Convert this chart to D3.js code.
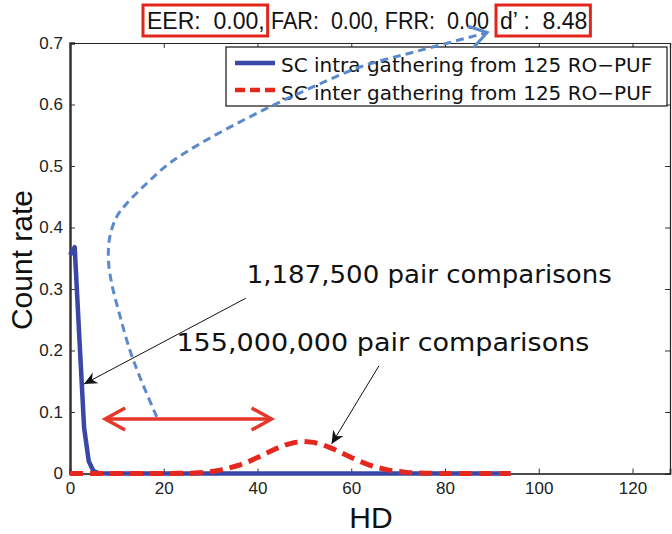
<!DOCTYPE html>
<html>
<head>
<meta charset="utf-8">
<script src="https://cdn.jsdelivr.net/npm/d3@7"></script>
<style>
  body { margin: 0; background: #fff; }
  svg { display: block; }
  text { white-space: pre; }
</style>
</head>
<body>
<script>
// data
var intraHD = [0, 1, 2, 3, 4, 5, 6, 7, 8, 94];
var intraRate = [0.355, 0.368, 0.22, 0.075, 0.02, 0.004, 0.001, 0.0003, 0, 0];

var interHD = [0, 10, 20, 26, 28, 30, 32, 34, 36, 38, 40, 42, 44, 46, 48, 50, 52, 54, 56, 58, 60, 62, 64, 66, 68, 70, 72, 74, 76, 78, 80, 94];
var interRate = [0, 0, 0, 0.0006, 0.0015, 0.003, 0.0055, 0.009, 0.0134, 0.019, 0.026, 0.0334, 0.0405, 0.0465, 0.0506, 0.052, 0.0506, 0.0465, 0.0405, 0.0334, 0.026, 0.0192, 0.0134, 0.0089, 0.0055, 0.0033, 0.0018, 0.001, 0.0005, 0.0002, 0, 0];

var xTicks = [0, 20, 40, 60, 80, 100, 120];
var yTicks = [0, 0.1, 0.2, 0.3, 0.4, 0.5, 0.6, 0.7];

var legendLabels = ['SC intra gathering from 125 RO\u2212PUF', 'SC inter gathering from 125 RO\u2212PUF'];
var titleParts = ['EER:  0.00,', 'FAR:  0.00, FRR:  0.00', 'd\u2019 :  8.48'];

// annotation anchors in data units [HD, rate]
var curvePts = [[18.5, 0.092], [14.9, 0.157], [12.8, 0.2], [10.7, 0.255], [8.9, 0.309], [8.2, 0.347], [8.5, 0.385], [10.0, 0.418], [12.1, 0.439], [16.4, 0.472], [21.3, 0.505], [27.7, 0.536], [35.6, 0.569], [43.4, 0.599], [50.5, 0.624], [61.9, 0.661], [74.7, 0.688], [89.0, 0.717]];
var note1 = {text: '1,187,500 pair comparisons', len: 365, at: [37.7, 0.31], from: [37.5, 0.285], to: [3.0, 0.1455]};
var note2 = {text: '155,000,000 pair comparisons', len: 413, at: [22.7, 0.2], from: [65.9, 0.175], to: [55.8, 0.048]};
var spanArrow = [[7.5, 0.0886], [43.0, 0.0886]];

var W = 672, H = 534;
var x = d3.scaleLinear().domain([0, 128]).range([70, 670]);
var y = d3.scaleLinear().domain([0, 0.7]).range([473.5, 43]);

var svg = d3.select('body').append('svg')
    .attr('width', W).attr('height', H)
    .style('font-family', 'Liberation Sans, Arial, sans-serif');

var defs = svg.append('defs');
defs.append('marker').attr('id', 'blk')
    .attr('viewBox', '-14 -7 16 14').attr('refX', 0).attr('refY', 0)
    .attr('markerWidth', 16).attr('markerHeight', 14)
    .attr('markerUnits', 'userSpaceOnUse').attr('orient', 'auto')
    .append('path').attr('d', 'M0,0 L-13,-6 L-9,0 L-13,6 Z').attr('fill', '#111');
defs.append('marker').attr('id', 'redv')
    .attr('viewBox', '-24 -14 28 28').attr('refX', 0).attr('refY', 0)
    .attr('markerWidth', 28).attr('markerHeight', 28)
    .attr('markerUnits', 'userSpaceOnUse').attr('orient', 'auto-start-reverse')
    .append('path').attr('d', 'M-20,-11 L0,0 L-20,11')
    .attr('fill', 'none').attr('stroke', '#e5382a').attr('stroke-width', 3.5);
defs.append('marker').attr('id', 'bluev')
    .attr('viewBox', '-22 -14 26 28').attr('refX', 0).attr('refY', 0)
    .attr('markerWidth', 26).attr('markerHeight', 28)
    .attr('markerUnits', 'userSpaceOnUse').attr('orient', 'auto')
    .append('path').attr('d', 'M-17,-11 L0,0 L-17,11')
    .attr('fill', 'none').attr('stroke', '#5a8acb').attr('stroke-width', 3);

// axes (MATLAB style, inward ticks, box on)
var xAxis = d3.axisBottom(x).tickValues(xTicks).tickSize(-5).tickPadding(8).tickFormat(d3.format('d'));
var yAxis = d3.axisLeft(y).tickValues(yTicks).tickSize(-5).tickPadding(7)
    .tickFormat(function(d){ return d === 0 ? '0' : d.toFixed(1); });

svg.append('g').attr('class', 'x axis').attr('transform', 'translate(0,' + y(0) + ')').call(xAxis);
svg.append('g').attr('class', 'y axis').attr('transform', 'translate(' + x(0) + ',0)').call(yAxis);
svg.append('g').attr('transform', 'translate(0,' + y(0.7) + ')')
    .call(d3.axisTop(x).tickValues(xTicks).tickSize(-5).tickFormat(''));
svg.append('g').attr('transform', 'translate(' + x(128) + ',0)')
    .call(d3.axisRight(y).tickValues(yTicks).tickSize(-5).tickFormat(''));

svg.selectAll('.axis text').attr('font-size', 17).attr('fill', '#222')
    .style('font-family', 'Liberation Sans, Arial, sans-serif');
svg.selectAll('.domain').attr('stroke', '#222').attr('stroke-width', 1.2);
svg.select('.y.axis .domain').attr('stroke', '#333').attr('stroke-width', 2.5);
svg.select('.x.axis .domain').attr('stroke', '#111').attr('stroke-width', 1.6);
svg.selectAll('.tick line').attr('stroke', '#333');

// axis labels
svg.append('text').text('HD').attr('x', 371).attr('y', 528)
    .attr('text-anchor', 'middle').attr('font-size', 30).attr('fill', '#111');
svg.append('text').text('Count rate')
    .attr('transform', 'translate(32,260) rotate(-90)')
    .attr('text-anchor', 'middle').attr('font-size', 30).attr('fill', '#111');

// series
var line = d3.line().x(function(d){ return x(d[0]); }).y(function(d){ return y(d[1]); });

svg.append('path')
    .datum(intraHD.map(function(h, i){ return [h, intraRate[i]]; }))
    .attr('d', line).attr('fill', 'none')
    .attr('stroke', '#3a47a8').attr('stroke-width', 4.5).attr('stroke-linejoin', 'round');

svg.append('path')
    .datum(interHD.map(function(h, i){ return [h, interRate[i]]; }))
    .attr('d', line).attr('fill', 'none')
    .attr('stroke', '#e4281e').attr('stroke-width', 5).attr('stroke-dasharray', '13,7');

// legend
var lg = svg.append('g');
lg.append('rect').attr('x', 226).attr('y', 47).attr('width', 441).attr('height', 59)
    .attr('fill', '#fff').attr('stroke', '#111').attr('stroke-width', 1.2);
lg.append('line').attr('x1', 235).attr('x2', 275).attr('y1', 63).attr('y2', 63)
    .attr('stroke', '#3a47a8').attr('stroke-width', 4.5);
lg.append('line').attr('x1', 235).attr('x2', 275).attr('y1', 90).attr('y2', 90)
    .attr('stroke', '#e4281e').attr('stroke-width', 4.5).attr('stroke-dasharray', '10,5');
lg.selectAll('text').data(legendLabels).enter().append('text')
    .attr('x', 281).attr('y', function(d, i){ return 71.5 + i * 28; })
    .attr('font-size', 20).style('font-family', 'DejaVu Sans, sans-serif')
    .attr('fill', '#111').text(function(d){ return d; });

// title with boxes
var tx = [147, 271, 500];
var tg = svg.append('g');
titleParts.forEach(function(t, i){
  var el = tg.append('text').attr('x', tx[i]).attr('y', 29)
      .attr('font-size', 23).attr('fill', '#111').text(t);
  if (i === 1) {
    el.attr('textLength', 218).attr('lengthAdjust', 'spacingAndGlyphs');
  } else {
    var w = el.node().getComputedTextLength();
    tg.append('rect').attr('x', tx[i] - 4).attr('y', 5)
        .attr('width', w + 7).attr('height', 31)
        .attr('fill', 'none').attr('stroke', '#e3261c').attr('stroke-width', 3);
  }
});

// annotations
var curve = d3.line().curve(d3.curveCatmullRom)
    .x(function(d){ return x(d[0]); }).y(function(d){ return y(d[1]); });
svg.append('path').datum(curvePts).attr('d', curve)
    .attr('fill', 'none').attr('stroke', '#5a8acb').attr('stroke-width', 3)
    .attr('stroke-dasharray', '8,5').attr('marker-end', 'url(#bluev)');

svg.append('line')
    .attr('x1', x(spanArrow[0][0])).attr('y1', y(spanArrow[0][1]))
    .attr('x2', x(spanArrow[1][0])).attr('y2', y(spanArrow[1][1]))
    .attr('stroke', '#e5382a').attr('stroke-width', 3.5)
    .attr('marker-start', 'url(#redv)').attr('marker-end', 'url(#redv)');

[note1, note2].forEach(function(n){
  svg.append('line')
      .attr('x1', x(n.from[0])).attr('y1', y(n.from[1]))
      .attr('x2', x(n.to[0])).attr('y2', y(n.to[1]))
      .attr('stroke', '#111').attr('stroke-width', 1)
      .attr('marker-end', 'url(#blk)');
  svg.append('text').attr('x', x(n.at[0])).attr('y', y(n.at[1]))
      .attr('font-size', 24).style('font-family', 'DejaVu Sans, sans-serif')
      .attr('textLength', n.len).attr('lengthAdjust', 'spacingAndGlyphs')
      .attr('fill', '#111').text(n.text);
});
</script>
</body>
</html>
